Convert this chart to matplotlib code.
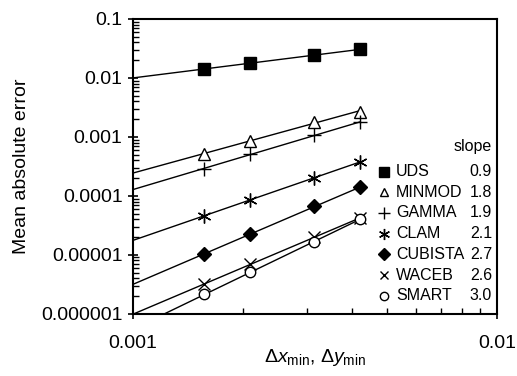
import numpy as np
import matplotlib
matplotlib.use("Agg")
import matplotlib.pyplot as plt
from matplotlib.ticker import NullFormatter

plt.rcParams['font.family'] = ['Liberation Sans', 'DejaVu Sans']
plt.rcParams['mathtext.fontset'] = 'custom'
plt.rcParams['mathtext.rm'] = 'Liberation Sans'
plt.rcParams['mathtext.it'] = 'Liberation Sans:italic'

# grid spacing (x) and errors
dx = [0.00157, 0.0021, 0.00315, 0.0042]
schemes = ['UDS', 'MINMOD', 'GAMMA', 'CLAM', 'CUBISTA', 'WACEB', 'SMART']
slopes = ['0.9', '1.8', '1.9', '2.1', '2.7', '2.6', '3.0']
err = {
    'UDS':     [0.0141, 0.018, 0.0244, 0.0304],
    'MINMOD':  [0.000515, 0.000857, 0.00181, 0.00267],
    'GAMMA':   [0.00029, 0.000507, 0.00106, 0.00178],
    'CLAM':    [4.58e-5, 8.6e-5, 2.01e-4, 3.76e-4],
    'CUBISTA': [1.03e-5, 2.26e-5, 6.6e-5, 1.39e-4],
    'WACEB':   [3.18e-6, 6.9e-6, 1.99e-5, 4.19e-5],
    'SMART':   [2.12e-6, 5.04e-6, 1.65e-5, 4.03e-5],
}

# marker style per scheme
mk = {
    'UDS':     dict(marker='s', ms=9, mfc='black', mec='black'),
    'MINMOD':  dict(marker='^', ms=8, mfc='white', mec='black', mew=1),
    'GAMMA':   dict(marker='+', ms=10, mec='black', mew=1),
    'CLAM':    dict(marker=(6, 2, 0), ms=10, mec='black', mew=1),
    'CUBISTA': dict(marker='D', ms=7.5, mfc='black', mec='black'),
    'WACEB':   dict(marker='x', ms=8, mec='black', mew=1),
    'SMART':   dict(marker='o', ms=7.5, mfc='white', mec='black', mew=1),
}

fig = plt.figure(figsize=(5.17, 3.76), dpi=100)
ax = fig.add_axes([133/517, 1-313.7/376, 364/517, 294.7/376])

xf = np.array([0.001, dx[-1]])
for s in schemes:
    p = np.polyfit(np.log10(dx), np.log10(err[s]), 1)
    ax.plot(xf, 10**np.polyval(p, np.log10(xf)), color='black', lw=1, zorder=2)
    ax.plot(dx, err[s], ls='none', zorder=3, **mk[s])

ax.set_xscale('log')
ax.set_yscale('log')
ax.set_xlim(0.001, 0.01)
ax.set_ylim(1e-6, 0.1)
ax.set_xticks([0.001, 0.01])
ax.set_xticklabels(['0.001', '0.01'])
ax.xaxis.set_minor_formatter(NullFormatter())
yt = [1e-6, 1e-5, 1e-4, 1e-3, 1e-2, 1e-1]
ax.set_yticks(yt)
ax.set_yticklabels(['0.000001', '0.00001', '0.0001', '0.001', '0.01', '0.1'])
ax.yaxis.set_minor_formatter(NullFormatter())
ax.tick_params(which='major', direction='inout', length=7, width=1.2, labelsize=14, pad=4)
ax.tick_params(axis='x', which='major', pad=12)
ax.tick_params(which='minor', direction='in', length=4, width=1)
for sp in ax.spines.values():
    sp.set_linewidth(1.5)

ax.set_ylabel('Mean absolute error', fontsize=14, labelpad=8)
ax.set_xlabel(r'$\Delta x_{\rm min}$, $\Delta y_{\rm min}$', fontsize=14, labelpad=-4)

# legend-like table with slopes
def ax_xy(px, py):
    return (px - 133) / 364, (313.7 - py) / 294.7

hx, hy = ax_xy(492, 147)
ax.text(hx, hy, 'slope', transform=ax.transAxes, ha='right', va='center', fontsize=11.5)
for i, s in enumerate(schemes):
    py = 171.5 + i * 20.7
    mx, my = ax_xy(384, py)
    st = dict(mk[s])
    st['ms'] = st['ms'] * 0.8
    ax.plot([mx], [my], transform=ax.transAxes, ls='none', clip_on=False, **st)
    tx, ty = ax_xy(396, py)
    ax.text(tx, ty, s, transform=ax.transAxes, ha='left', va='center', fontsize=11.5)
    sx, sy = ax_xy(492, py)
    ax.text(sx, sy, slopes[i], transform=ax.transAxes, ha='right', va='center', fontsize=11.5)

fig.savefig('out.png', dpi=100)
